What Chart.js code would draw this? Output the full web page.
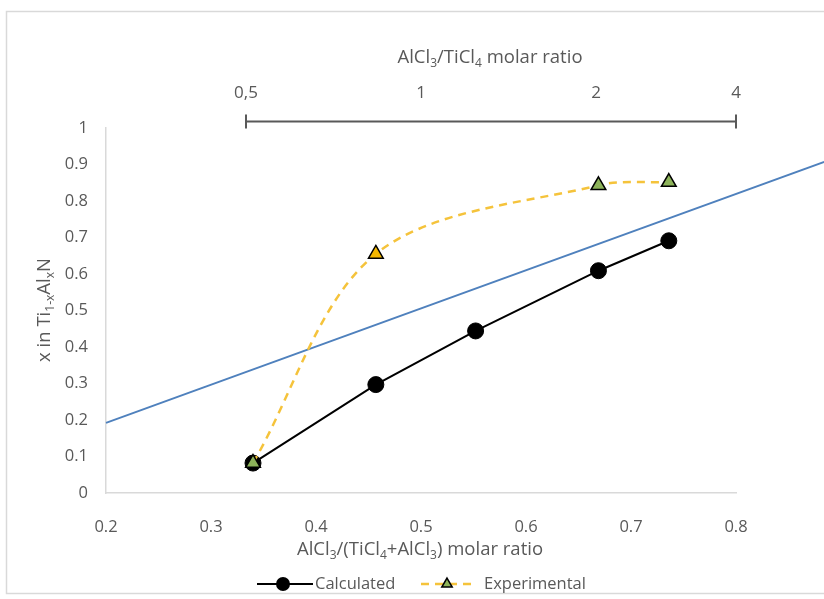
<!DOCTYPE html>
<html>
<head>
<meta charset="utf-8">
<script src="https://cdn.jsdelivr.net/npm/chart.js@4.4.1/dist/chart.umd.min.js"></script>
<style>
  html, body { margin: 0; padding: 0; background: #fff; }
  #wrap { width: 824px; height: 599px; position: relative; }
</style>
</head>
<body>
<div id="wrap"><canvas id="chart" width="824" height="599"></canvas></div>
<script>
// AlCl3/(TiCl4+AlCl3) molar ratio
const calcX = [0.34, 0.457, 0.552, 0.669, 0.736];
const calcY = [0.082, 0.297, 0.444, 0.609, 0.691];

const expX = [0.34, 0.457, 0.669, 0.736];
const expY = [0.082, 0.655, 0.843, 0.852];
const expFill = ['#8db35a', '#f5b800', '#8db35a', '#8db35a'];

// straight reference line (runs past the plot edge in the original)
const refX = [0.2, 0.884];
const refY = [0.192, 0.907];

// top axis: AlCl3/TiCl4 ratio r, placed at r/(1+r)
const ratioTicks = [0.5, 1, 2, 4];
const ratioLabels = ['0,5', '1', '2', '4'];

const yTicks = [0, 0.1, 0.2, 0.3, 0.4, 0.5, 0.6, 0.7, 0.8, 0.9, 1];

const GREY = '#595959';
const FONT = '"Open Sans", sans-serif';

function pts(xs, ys) {
    return xs.map((x, i) => ({ x: x, y: ys[i] }));
}

// text with subscript pieces: parts = [[text, isSub], ...]
function richWidth(ctx, parts, size) {
    let w = 0;
    parts.forEach(p => {
        ctx.font = (p[1] ? size * 0.65 : size) + 'px ' + FONT;
        w += ctx.measureText(p[0]).width;
    });
    return w;
}
function drawRich(ctx, parts, cx, cy, size) {
    let x = cx - richWidth(ctx, parts, size) / 2;
    ctx.textBaseline = 'middle';
    ctx.textAlign = 'left';
    ctx.fillStyle = GREY;
    parts.forEach(p => {
        ctx.font = (p[1] ? size * 0.65 : size) + 'px ' + FONT;
        ctx.fillText(p[0], x, p[1] ? cy + size * 0.3 : cy);
        x += ctx.measureText(p[0]).width;
    });
}

const extras = {
    id: 'extras',
    beforeDraw(chart) {
        const c = chart.ctx;
        c.save();
        c.fillStyle = '#fff';
        c.fillRect(0, 0, chart.width, chart.height);
        // outer frame
        c.strokeStyle = '#d9d9d9';
        c.lineWidth = 1.5;
        c.strokeRect(6.5, 11.5, 830, 582);
        c.restore();
    },
    afterDraw(chart) {
        const c = chart.ctx;
        const top = chart.scales.xTop;
        c.save();

        // bracket under the top ratio labels
        const x1 = top.getPixelForValue(ratioTicks[0] / (1 + ratioTicks[0]));
        const x2 = top.getPixelForValue(ratioTicks[3] / (1 + ratioTicks[3]));
        const by = 121.5;
        c.strokeStyle = GREY;
        c.lineWidth = 2;
        c.beginPath();
        c.moveTo(x1, by); c.lineTo(x2, by);
        c.moveTo(x1, by - 7); c.lineTo(x1, by + 7);
        c.moveTo(x2, by - 7); c.lineTo(x2, by + 7);
        c.stroke();

        // axis titles
        drawRich(c, [['AlCl', 0], ['3', 1], ['/TiCl', 0], ['4', 1], [' molar ratio', 0]], 490, 58, 18.5);
        drawRich(c, [['AlCl', 0], ['3', 1], ['/(TiCl', 0], ['4', 1], ['+AlCl', 0], ['3', 1], [') molar ratio', 0]], 420, 550, 18.5);

        c.save();
        c.translate(45, 310);
        c.rotate(-Math.PI / 2);
        drawRich(c, [['x in Ti', 0], ['1-x', 1], ['Al', 0], ['x', 1], ['N', 0]], 0, 0, 18.5);
        c.restore();

        // legend
        const ly = 584;
        const calc = chart.data.datasets[0];
        const exp = chart.data.datasets[1];
        c.lineWidth = calc.borderWidth;
        c.strokeStyle = calc.borderColor;
        c.beginPath(); c.moveTo(257, ly); c.lineTo(313, ly); c.stroke();
        c.fillStyle = calc.pointBackgroundColor;
        c.beginPath(); c.arc(283, ly, 7, 0, Math.PI * 2); c.fill();
        c.fillStyle = GREY;
        c.font = '16.5px ' + FONT;
        c.textAlign = 'left';
        c.textBaseline = 'middle';
        c.fillText('Calculated', 315, ly);

        c.strokeStyle = exp.borderColor;
        c.lineWidth = exp.borderWidth;
        c.setLineDash(exp.borderDash);
        c.beginPath(); c.moveTo(421, ly); c.lineTo(476, ly); c.stroke();
        c.setLineDash([]);
        c.fillStyle = '#8db35a';
        c.strokeStyle = '#000';
        c.lineWidth = 1.5;
        Chart.helpers.drawPoint(c, { pointStyle: 'triangle', radius: 6, borderWidth: 1.5 }, 447, ly);
        c.fillStyle = GREY;
        c.fillText('Experimental', 484, ly);

        c.restore();
    }
};

new Chart(document.getElementById('chart'), {
    type: 'line',
    data: {
        datasets: [{
            label: 'Calculated',
            data: pts(calcX, calcY),
            borderColor: '#000',
            borderWidth: 2,
            pointStyle: 'circle',
            pointRadius: 8,
            pointBackgroundColor: '#000',
            pointBorderColor: '#000',
            pointBorderWidth: 1,
            tension: 0,
            order: 2
        }, {
            label: 'Experimental',
            data: pts(expX, expY),
            borderColor: '#f5c33b',
            borderWidth: 2.5,
            borderDash: [8, 6],
            pointStyle: 'triangle',
            pointRadius: 8.5,
            pointBackgroundColor: expFill,
            pointBorderColor: '#000',
            pointBorderWidth: 1.5,
            tension: 0.33,
            order: 1
        }, {
            label: 'ref',
            data: pts(refX, refY),
            borderColor: '#4f81bd',
            borderWidth: 2,
            pointRadius: 0,
            tension: 0,
            clip: false,
            order: 3
        }]
    },
    options: {
        responsive: false,
        animation: false,
        layout: { padding: { left: 0, right: 88, top: 0, bottom: 0 } },
        plugins: {
            legend: { display: false },
            tooltip: { enabled: false }
        },
        scales: {
            x: {
                type: 'linear',
                position: 'bottom',
                min: 0.2,
                max: 0.8,
                afterFit(s) { s.height = 106; },
                ticks: {
                    stepSize: 0.1,
                    padding: 16,
                    color: GREY,
                    font: { family: FONT, size: 16.5 },
                    callback: v => Number(v.toFixed(1)).toString()
                },
                grid: { display: false },
                border: { display: true, color: '#d9d9d9', width: 1.5 }
            },
            xTop: {
                type: 'linear',
                position: 'top',
                min: 0.2,
                max: 0.8,
                afterFit(s) { s.height = 128; },
                afterBuildTicks(s) {
                    s.ticks = ratioTicks.map(r => ({ value: r / (1 + r) }));
                },
                ticks: {
                    padding: 25,
                    color: GREY,
                    font: { family: FONT, size: 17 },
                    maxRotation: 0,
                    autoSkip: false,
                    callback: (v, i) => ratioLabels[i]
                },
                grid: { display: false, drawTicks: false },
                border: { display: false }
            },
            y: {
                type: 'linear',
                min: 0,
                max: 1,
                afterFit(s) { s.width = 106; },
                afterBuildTicks(s) {
                    s.ticks = yTicks.map(v => ({ value: v }));
                },
                ticks: {
                    padding: 18,
                    color: GREY,
                    font: { family: FONT, size: 16.5 },
                    callback: v => Number(v.toFixed(1)).toString()
                },
                grid: { display: false, drawTicks: false },
                border: { display: true, color: '#d9d9d9', width: 1.5 }
            }
        }
    },
    plugins: [extras]
});
</script>
</body>
</html>
